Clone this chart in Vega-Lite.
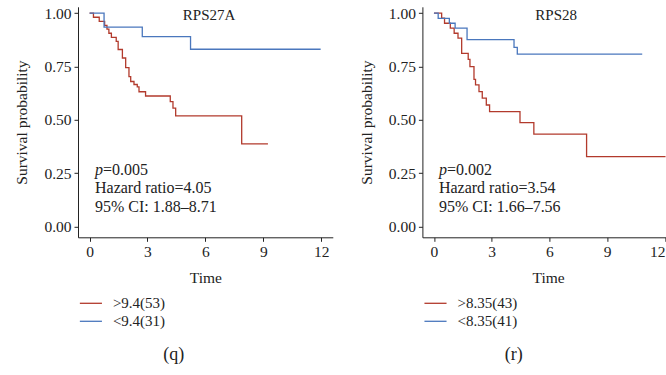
{
  "$schema": "https://vega.github.io/schema/vega-lite/v6.json",
  "padding": {"left": 14, "top": 5.8, "right": 0, "bottom": 0},
  "background": "white",
  "config": {
    "view": {"stroke": null},
    "font": "Liberation Serif",
    "axis": {
      "grid": false,
      "domainColor": "#222",
      "tickColor": "#222",
      "labelColor": "#222",
      "titleColor": "#222",
      "domainWidth": 1,
      "tickWidth": 1,
      "tickSize": 4,
      "labelPadding": 3,
      "labelFont": "Liberation Serif",
      "labelFontSize": 15.5,
      "titleFont": "Liberation Serif",
      "titleFontSize": 15.5,
      "titleFontWeight": "normal"
    },
    "legend": {
      "orient": "none",
      "direction": "vertical",
      "title": null,
      "symbolType": "M-1.3,0H1.3",
      "symbolSize": 289,
      "symbolStrokeWidth": 1.3,
      "labelFont": "Liberation Serif",
      "labelFontSize": 15,
      "labelColor": "#222",
      "labelOffset": 12.5,
      "rowPadding": 0,
      "padding": 0
    },
    "title": {"font": "Liberation Serif", "fontSize": 18, "fontWeight": "normal", "color": "#222", "orient": "bottom", "anchor": "middle", "frame": "bounds", "offset": 16}
  },
  "datasets": {
    "qc": [
      {"t": 0, "s": 1, "g": ">9.4(53)"},
      {"t": 0.2, "s": 0.981, "g": ">9.4(53)"},
      {"t": 0.5, "s": 0.962, "g": ">9.4(53)"},
      {"t": 0.78, "s": 0.943, "g": ">9.4(53)"},
      {"t": 0.9, "s": 0.925, "g": ">9.4(53)"},
      {"t": 1.0, "s": 0.906, "g": ">9.4(53)"},
      {"t": 1.13, "s": 0.887, "g": ">9.4(53)"},
      {"t": 1.38, "s": 0.868, "g": ">9.4(53)"},
      {"t": 1.48, "s": 0.83, "g": ">9.4(53)"},
      {"t": 1.7, "s": 0.79, "g": ">9.4(53)"},
      {"t": 1.87, "s": 0.745, "g": ">9.4(53)"},
      {"t": 2.04, "s": 0.703, "g": ">9.4(53)"},
      {"t": 2.13, "s": 0.68, "g": ">9.4(53)"},
      {"t": 2.3, "s": 0.666, "g": ">9.4(53)"},
      {"t": 2.47, "s": 0.655, "g": ">9.4(53)"},
      {"t": 2.56, "s": 0.632, "g": ">9.4(53)"},
      {"t": 2.9, "s": 0.612, "g": ">9.4(53)"},
      {"t": 4.18, "s": 0.586, "g": ">9.4(53)"},
      {"t": 4.32, "s": 0.555, "g": ">9.4(53)"},
      {"t": 4.46, "s": 0.519, "g": ">9.4(53)"},
      {"t": 7.88, "s": 0.388, "g": ">9.4(53)"},
      {"t": 9.24, "s": 0.388, "g": ">9.4(53)"},
      {"t": 0, "s": 1, "g": "<9.4(31)"},
      {"t": 0.75, "s": 0.935, "g": "<9.4(31)"},
      {"t": 2.73, "s": 0.89, "g": "<9.4(31)"},
      {"t": 5.23, "s": 0.831, "g": "<9.4(31)"},
      {"t": 11.97, "s": 0.831, "g": "<9.4(31)"}
    ],
    "rc": [
      {"t": 0, "s": 1, "g": ">8.35(43)"},
      {"t": 0.4, "s": 0.977, "g": ">8.35(43)"},
      {"t": 0.55, "s": 0.953, "g": ">8.35(43)"},
      {"t": 0.85, "s": 0.93, "g": ">8.35(43)"},
      {"t": 1.05, "s": 0.906, "g": ">8.35(43)"},
      {"t": 1.25, "s": 0.883, "g": ">8.35(43)"},
      {"t": 1.44, "s": 0.812, "g": ">8.35(43)"},
      {"t": 1.78, "s": 0.784, "g": ">8.35(43)"},
      {"t": 1.87, "s": 0.75, "g": ">8.35(43)"},
      {"t": 2.08, "s": 0.69, "g": ">8.35(43)"},
      {"t": 2.16, "s": 0.664, "g": ">8.35(43)"},
      {"t": 2.34, "s": 0.633, "g": ">8.35(43)"},
      {"t": 2.51, "s": 0.602, "g": ">8.35(43)"},
      {"t": 2.72, "s": 0.57, "g": ">8.35(43)"},
      {"t": 2.89, "s": 0.539, "g": ">8.35(43)"},
      {"t": 4.47, "s": 0.487, "g": ">8.35(43)"},
      {"t": 5.19, "s": 0.433, "g": ">8.35(43)"},
      {"t": 7.93, "s": 0.328, "g": ">8.35(43)"},
      {"t": 12.03, "s": 0.328, "g": ">8.35(43)"},
      {"t": 0, "s": 1, "g": "<8.35(41)"},
      {"t": 0.22, "s": 0.976, "g": "<8.35(41)"},
      {"t": 0.8, "s": 0.953, "g": "<8.35(41)"},
      {"t": 1.1, "s": 0.93, "g": "<8.35(41)"},
      {"t": 1.72, "s": 0.876, "g": "<8.35(41)"},
      {"t": 4.16, "s": 0.84, "g": "<8.35(41)"},
      {"t": 4.33, "s": 0.808, "g": "<8.35(41)"},
      {"t": 10.82, "s": 0.808, "g": "<8.35(41)"}
    ],
    "qt": [
      {"t": 0.28, "s": 0.266, "kind": "p", "label": "p"},
      {"t": 0.28, "s": 0.266, "kind": "pv", "label": "=0.005"},
      {"t": 0.28, "s": 0.18, "kind": "line", "label": "Hazard ratio=4.05"},
      {"t": 0.28, "s": 0.094, "kind": "line", "label": "95% CI: 1.88–8.71"},
      {"t": 6.19, "s": 0.99, "kind": "title", "label": "RPS27A"}
    ],
    "rt": [
      {"t": 0.26, "s": 0.266, "kind": "p", "label": "p"},
      {"t": 0.26, "s": 0.266, "kind": "pv", "label": "=0.002"},
      {"t": 0.26, "s": 0.18, "kind": "line", "label": "Hazard ratio=3.54"},
      {"t": 0.26, "s": 0.094, "kind": "line", "label": "95% CI: 1.66–7.56"},
      {"t": 6.35, "s": 0.99, "kind": "title", "label": "RPS28"}
    ]
  },
  "hconcat": [
    {
      "width": 254.8,
      "height": 230.5,
      "title": {"text": "(q)"},
      "layer": [
        {
          "data": {"name": "qc"},
          "mark": {"type": "line", "interpolate": "step-after", "strokeWidth": 1.3},
          "encoding": {
            "x": {"field": "t", "type": "quantitative", "scale": {"domain": [-0.6, 12.6], "nice": false, "zero": false}, "axis": {"values": [0, 3, 6, 9, 12], "title": "Time", "titlePadding": 11}},
            "y": {"field": "s", "type": "quantitative", "scale": {"domain": [-0.05, 1.03], "nice": false, "zero": false}, "axis": {"values": [0, 0.25, 0.5, 0.75, 1], "format": ".2f", "title": "Survival probability", "titlePadding": 14}},
            "color": {"field": "g", "type": "nominal", "scale": {"domain": [">9.4(53)", "<9.4(31)"], "range": ["#B23A2C", "#4A77BD"]}, "legend": {"legendX": 3.4, "legendY": 287}}
          }
        },
        {
          "data": {"name": "qt"},
          "transform": [{"filter": "datum.kind === 'p'"}],
          "mark": {"type": "text", "align": "left", "baseline": "middle", "fontSize": 16, "fontStyle": "italic", "color": "#222"},
          "encoding": {"x": {"field": "t", "type": "quantitative"}, "y": {"field": "s", "type": "quantitative"}, "text": {"field": "label"}}
        },
        {
          "data": {"name": "qt"},
          "transform": [{"filter": "datum.kind === 'pv'"}],
          "mark": {"type": "text", "align": "left", "baseline": "middle", "fontSize": 16, "dx": 8, "color": "#222"},
          "encoding": {"x": {"field": "t", "type": "quantitative"}, "y": {"field": "s", "type": "quantitative"}, "text": {"field": "label"}}
        },
        {
          "data": {"name": "qt"},
          "transform": [{"filter": "datum.kind === 'line'"}],
          "mark": {"type": "text", "align": "left", "baseline": "middle", "fontSize": 16, "color": "#222"},
          "encoding": {"x": {"field": "t", "type": "quantitative"}, "y": {"field": "s", "type": "quantitative"}, "text": {"field": "label"}}
        },
        {
          "data": {"name": "qt"},
          "transform": [{"filter": "datum.kind === 'title'"}],
          "mark": {"type": "text", "align": "center", "baseline": "middle", "fontSize": 15, "color": "#222"},
          "encoding": {"x": {"field": "t", "type": "quantitative"}, "y": {"field": "s", "type": "quantitative"}, "text": {"field": "label"}}
        }
      ]
    },
    {
      "width": 246,
      "height": 230.5,
      "title": {"text": "(r)"},
      "layer": [
        {
          "data": {"name": "rc"},
          "mark": {"type": "line", "interpolate": "step-after", "strokeWidth": 1.3},
          "encoding": {
            "x": {"field": "t", "type": "quantitative", "scale": {"domain": [-0.6, 12.18], "nice": false, "zero": false}, "axis": {"values": [0, 3, 6, 9, 12], "title": "Time", "titlePadding": 11, "titleX": 125.7, "labelFlush": 5}},
            "y": {"field": "s", "type": "quantitative", "scale": {"domain": [-0.05, 1.03], "nice": false, "zero": false}, "axis": {"values": [0, 0.25, 0.5, 0.75, 1], "format": ".2f", "title": "Survival probability", "titlePadding": 14}},
            "color": {"field": "g", "type": "nominal", "scale": {"domain": [">8.35(43)", "<8.35(41)"], "range": ["#B23A2C", "#4A77BD"]}, "legend": {"legendX": 3.6, "legendY": 287}}
          }
        },
        {
          "data": {"name": "rt"},
          "transform": [{"filter": "datum.kind === 'p'"}],
          "mark": {"type": "text", "align": "left", "baseline": "middle", "fontSize": 16, "fontStyle": "italic", "color": "#222"},
          "encoding": {"x": {"field": "t", "type": "quantitative"}, "y": {"field": "s", "type": "quantitative"}, "text": {"field": "label"}}
        },
        {
          "data": {"name": "rt"},
          "transform": [{"filter": "datum.kind === 'pv'"}],
          "mark": {"type": "text", "align": "left", "baseline": "middle", "fontSize": 16, "dx": 8, "color": "#222"},
          "encoding": {"x": {"field": "t", "type": "quantitative"}, "y": {"field": "s", "type": "quantitative"}, "text": {"field": "label"}}
        },
        {
          "data": {"name": "rt"},
          "transform": [{"filter": "datum.kind === 'line'"}],
          "mark": {"type": "text", "align": "left", "baseline": "middle", "fontSize": 16, "color": "#222"},
          "encoding": {"x": {"field": "t", "type": "quantitative"}, "y": {"field": "s", "type": "quantitative"}, "text": {"field": "label"}}
        },
        {
          "data": {"name": "rt"},
          "transform": [{"filter": "datum.kind === 'title'"}],
          "mark": {"type": "text", "align": "center", "baseline": "middle", "fontSize": 15, "color": "#222"},
          "encoding": {"x": {"field": "t", "type": "quantitative"}, "y": {"field": "s", "type": "quantitative"}, "text": {"field": "label"}}
        }
      ],
      "resolve": {"scale": {"color": "independent"}}
    }
  ],
  "resolve": {"scale": {"color": "independent", "x": "independent", "y": "independent"}},
  "bounds": "flush",
  "spacing": 89.4
}
